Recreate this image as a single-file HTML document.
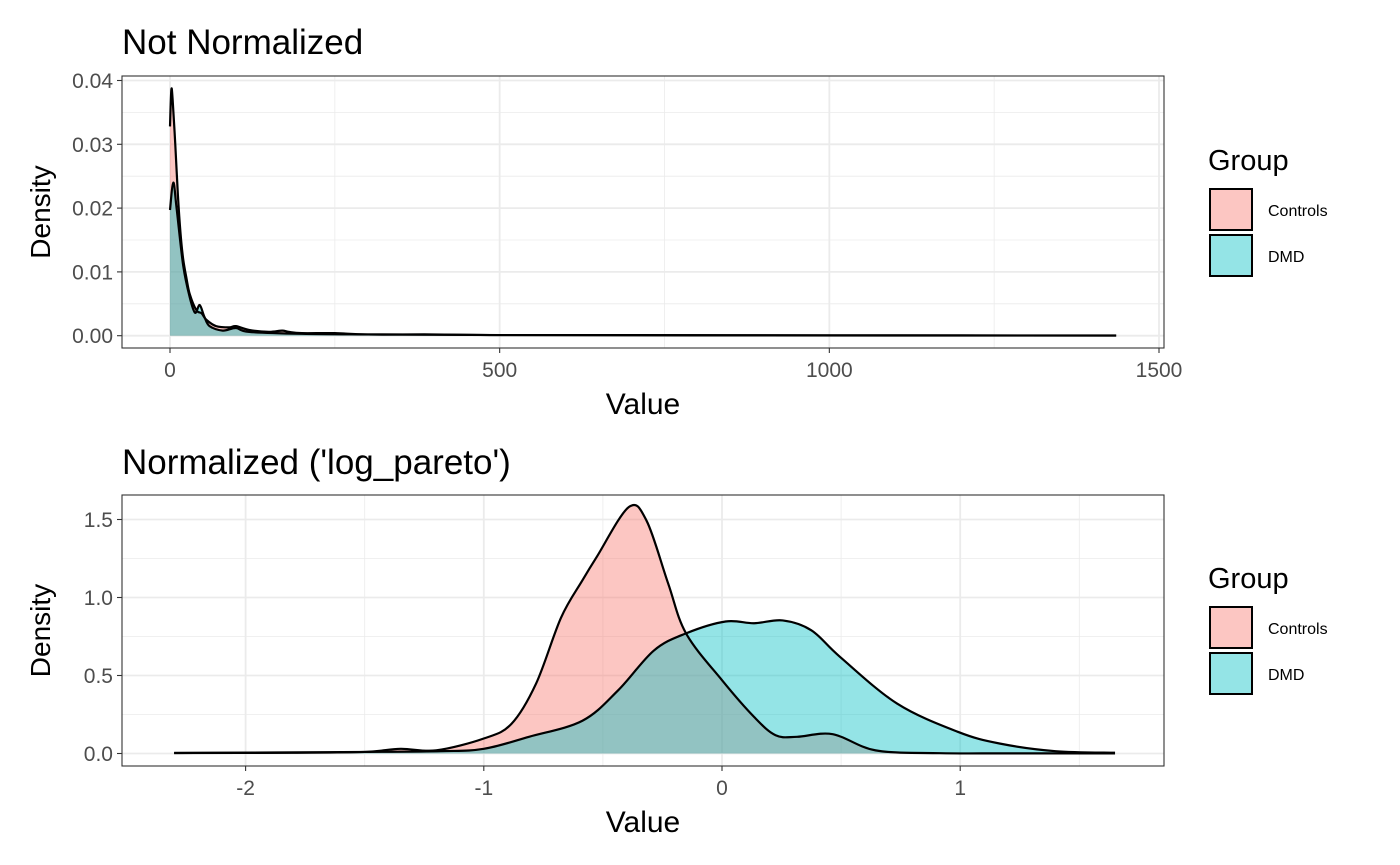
<!DOCTYPE html>
<html><head><meta charset="utf-8"><style>
body{margin:0;background:#fff;}
svg{display:block;font-family:"Liberation Sans",Arial,sans-serif;}
</style></head><body>
<svg id="c" width="1400" height="865" viewBox="0 0 1400 865" xmlns="http://www.w3.org/2000/svg"></svg>
<script>
// ---- data: top panel (Not Normalized) ----
const topCtrlX = [0,2,4,8,12,16,20,25,30,40,48,55,70,90,100,120,150,170,180,200,250,300,400,500,700,1000,1200,1435];
const topCtrlY = [0.0328,0.0385,0.037,0.030,0.022,0.016,0.012,0.009,0.0065,0.004,0.0035,0.0025,0.0015,0.0013,0.0015,0.0009,0.0006,0.0008,0.0006,0.0004,0.0004,0.0002,0.0002,0.0001,0.0001,0.00005,0.00005,0.00003];
const topDmdX = [0,5,10,20,30,38,45,52,60,80,100,120,200,300,500,800,1100,1435];
const topDmdY = [0.0197,0.024,0.020,0.011,0.006,0.0036,0.0048,0.003,0.0015,0.0008,0.0012,0.0006,0.0003,0.0002,0.0001,0.00005,0.00003,0.00002];
const topXTicks = [0,500,1000,1500];
const topYTicks = [0,0.01,0.02,0.03,0.04];
const topYLabels = ["0.00","0.01","0.02","0.03","0.04"];
// ---- data: bottom panel (Normalized) ----
const botCtrlX = [-2.3,-1.8,-1.5,-1.35,-1.2,-1,-0.884,-0.78,-0.676,-0.586,-0.526,-0.391,-0.316,-0.226,-0.151,0,0.135,0.225,0.315,0.465,0.645,0.915,1.2,1.65];
const botCtrlY = [0.003,0.005,0.01,0.03,0.02,0.096,0.19,0.45,0.87,1.11,1.26,1.58,1.49,1.09,0.77,0.47,0.234,0.117,0.107,0.124,0.02,0.002,0.001,0.001];
const botDmdX = [-2.3,-1.5,-1.18,-1,-0.81,-0.586,-0.436,-0.286,-0.151,0.015,0.135,0.255,0.375,0.495,0.735,0.99,1.165,1.4,1.65];
const botDmdY = [0.003,0.01,0.015,0.03,0.107,0.21,0.405,0.66,0.77,0.846,0.835,0.853,0.79,0.62,0.32,0.139,0.064,0.015,0.005];
const botXTicks = [-2,-1,0,1];
const botYTicks = [0,0.5,1,1.5];
const botYLabels = ["0.0","0.5","1.0","1.5"];
const groups = ["Controls","DMD"];

const NS="http://www.w3.org/2000/svg";
const svg=document.getElementById('c');
const ALPHA=0.42;
function mk(tag,attrs,parent,text){const e=document.createElementNS(NS,tag);for(const k in attrs)e.setAttribute(k,attrs[k]);if(text!==undefined)e.textContent=text;(parent||svg).appendChild(e);return e;}
function smooth(pts){let d="M"+pts[0][0]+","+pts[0][1];for(let i=0;i<pts.length-1;i++){const p0=pts[Math.max(0,i-1)],p1=pts[i],p2=pts[i+1],p3=pts[Math.min(pts.length-1,i+2)];const c1x=p1[0]+(p2[0]-p0[0])/6,c1y=p1[1]+(p2[1]-p0[1])/6,c2x=p2[0]-(p3[0]-p1[0])/6,c2y=p2[1]-(p3[1]-p1[1])/6;d+=`C${c1x},${c1y} ${c2x},${c2y} ${p2[0]},${p2[1]}`;}return d;}

function panel(o){
  const g=mk('g',{});
  
  
  const sx=v=>o.x0px+(v-o.x0)*o.kx, sy=v=>o.y0px-(v)*o.ky;
  o.xMinor.forEach(v=>{const l=mk('line',{x1:sx(v),x2:sx(v),y1:o.top,y2:o.bot,stroke:'#ebebeb','stroke-width':0.8},g);});
  o.yMinor.forEach(v=>{const l=mk('line',{x1:o.left,x2:o.right,y1:sy(v),y2:sy(v),stroke:'#ebebeb','stroke-width':0.8},g);});
  o.xt.forEach(v=>{const l=mk('line',{x1:sx(v),x2:sx(v),y1:o.top,y2:o.bot,stroke:'#ebebeb','stroke-width':1.8},g);});
  o.yt.forEach(v=>{const l=mk('line',{x1:o.left,x2:o.right,y1:sy(v),y2:sy(v),stroke:'#ebebeb','stroke-width':1.8},g);});
  const series=[[o.cx,o.cy,'#F8766D','controls'],[o.dx,o.dy,'#00BFC4','dmd']];
  series.forEach(s=>{
    const pts=s[0].map((v,i)=>[sx(v),sy(s[1][i])]);
    const d=smooth(pts);
    const a=mk('path',{d:d+`L${pts[pts.length-1][0]},${sy(0)}L${pts[0][0]},${sy(0)}Z`,fill:s[2],'fill-opacity':ALPHA,stroke:'none'},g);
    
  });
  series.forEach(s=>{
    const pts=s[0].map((v,i)=>[sx(v),sy(s[1][i])]);
    const l=mk('path',{d:smooth(pts),fill:'none',stroke:'#000','stroke-width':2.2},g);
    
  });
  const fr=mk('rect',{x:o.left,y:o.top,width:o.right-o.left,height:o.bot-o.top,fill:'none',stroke:'#333','stroke-width':1.1},g);
  
  o.xt.forEach((v,i)=>{
    mk('line',{x1:sx(v),x2:sx(v),y1:o.bot,y2:o.bot+5,stroke:'#333','stroke-width':1.1},g);
    const t=mk('text',{x:sx(v),y:o.bot+29,'font-size':21,fill:'#4d4d4d','text-anchor':'middle'},g,o.xl[i]);
    
  });
  o.yt.forEach((v,i)=>{
    mk('line',{x1:o.left-5,x2:o.left,y1:sy(v),y2:sy(v),stroke:'#333','stroke-width':1.1},g);
    const t=mk('text',{x:o.left-9,y:sy(v)+7.5,'font-size':21,fill:'#4d4d4d','text-anchor':'end'},g,o.yl[i]);
    
  });
  const ti=mk('text',{x:122,y:o.titleY,'font-size':35,fill:'#000'},g,o.title);
  
  const xa=mk('text',{x:(o.left+o.right)/2,y:o.bot+66,'font-size':30,fill:'#000','text-anchor':'middle'},g,'Value');
  
  const cyy=(o.top+o.bot)/2;
  const ya=mk('text',{x:50,y:cyy,'font-size':28,fill:'#000','text-anchor':'middle',transform:`rotate(-90 50 ${cyy})`},g,'Density');
  
  const lg=mk('g',{},g);
  
  const lt=mk('text',{x:1208,y:o.legY,'font-size':29,fill:'#000'},lg,'Group');
  
  const cols=['#F8766D','#00BFC4'];
  groups.forEach((nm,i)=>{
    const y=o.legY+19+i*46;
    const r=mk('rect',{x:1210,y:y,width:42,height:41,fill:cols[i],'fill-opacity':ALPHA,stroke:'#000','stroke-width':2},lg);
    
    const t=mk('text',{x:1268,y:y+27,'font-size':16,fill:'#000'},lg,nm);
    
  });
}
panel({name:'not-normalized-panel',left:122,right:1164,top:76,bot:348,x0:0,x0px:170,kx:989/1500,y0px:335.7,ky:6380,
  xt:topXTicks,xl:topXTicks.map(String),yt:topYTicks,yl:topYLabels,xMinor:[250,750,1250],yMinor:[0.005,0.015,0.025,0.035],
  cx:topCtrlX,cy:topCtrlY,dx:topDmdX,dy:topDmdY,title:'Not Normalized',titleY:54,legY:170});
panel({name:'normalized-panel',left:122,right:1164,top:495,bot:766,x0:0,x0px:722,kx:238.2,y0px:753.5,ky:156,
  xt:botXTicks,xl:botXTicks.map(String),yt:botYTicks,yl:botYLabels,xMinor:[-1.5,-0.5,0.5,1.5],yMinor:[0.25,0.75,1.25],
  cx:botCtrlX,cy:botCtrlY,dx:botDmdX,dy:botDmdY,title:"Normalized ('log_pareto')",titleY:474,legY:588});
</script>
</body></html>
